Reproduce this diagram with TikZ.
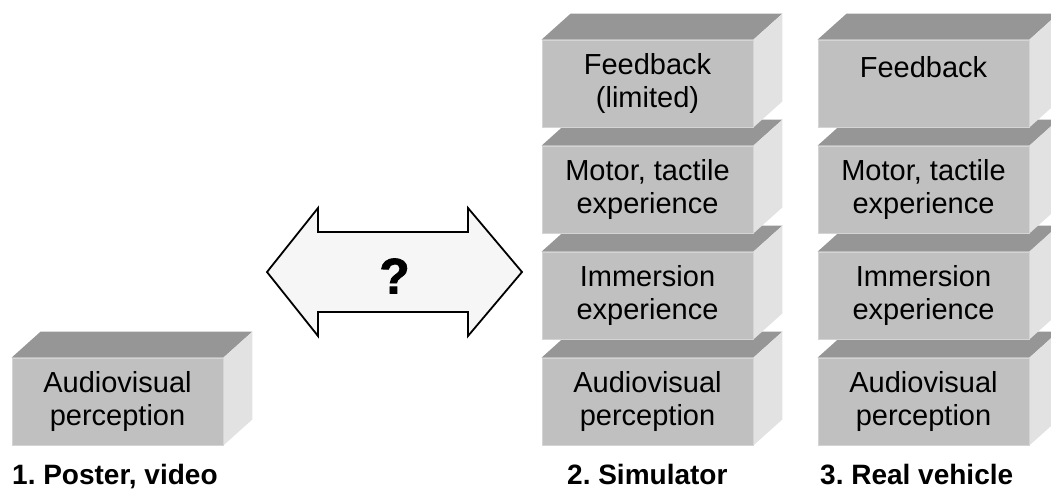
\documentclass[tikz,border=0pt]{standalone}
\usepackage{fontspec}
\setmainfont{Liberation Sans}
\newfontfamily\heavyfont[FakeBold=1.6]{Liberation Sans Bold}
\usetikzlibrary{backgrounds, calc}

\definecolor{slabfront}{RGB}{192,192,192}
\definecolor{slabtop}{RGB}{150,150,150}
\definecolor{slabside}{RGB}{226,226,226}
\definecolor{slabedge}{RGB}{212,212,212}
\definecolor{arrowfill}{RGB}{246,246,246}

\begin{document}
\frenchspacing
\begin{tikzpicture}[x=1pt, y=-1pt]
  % Define styles
  \tikzstyle{slab} = [rectangle, fill=slabfront, draw=slabedge, line width=0.8pt, minimum width=211pt, minimum height=87pt, inner sep=0pt, align=center, font=\fontsize{29}{33}\selectfont]
  \tikzstyle{slabtopface} = [fill=slabtop]
  \tikzstyle{slabsideface} = [fill=slabside]
  \tikzstyle{caption} = [anchor=base west, inner sep=0pt, font=\fontsize{28}{32}\selectfont\bfseries]
  \tikzstyle{bigarrow} = [draw=black, fill=arrowfill, line width=1.8pt, line join=miter]

  \useasboundingbox (0,0) rectangle (1051,491);

  % Column 1: poster, video
  \node[slab] (posav) at (117.5,401.5) {Audiovisual\\perception};

  % Column 2: simulator (bottom to top)
  \node[slab] (simav) at (647.5,401.5) {Audiovisual\\perception};
  \node[slab] (simim) at (647.5,295.5) {Immersion\\experience};
  \node[slab] (simmo) at (647.5,189.5) {Motor, tactile\\experience};
  \node[slab] (simfb) at (647.5,83.5) {Feedback\\(limited)};

  % Column 3: real vehicle (bottom to top)
  \node[slab] (realav) at (923.5,401.5) {Audiovisual\\perception};
  \node[slab] (realim) at (923.5,295.5) {Immersion\\experience};
  \node[slab] (realmo) at (923.5,189.5) {Motor, tactile\\experience};
  \node[slab] (realfb) at (923.5,83.5) {Feedback\\\mbox{}};

  % 3D faces behind the fronts
  \begin{pgfonlayer}{background}
    \foreach \n in {posav,simav,simim,simmo,simfb,realav,realim,realmo,realfb} {
      \fill[slabtopface] (\n.north west) -- ++(29,-26) -- ($(\n.north east)+(29,-26)$) -- (\n.north east) -- cycle;
      \fill[slabsideface] (\n.north east) -- ++(29,-26) -- ($(\n.south east)+(29,-26)$) -- (\n.south east) -- cycle;
    }
  \end{pgfonlayer}

  % Double arrow with question mark
  \draw[bigarrow] (267,272) -- (318,208) -- (318,232) -- (468,232) -- (468,208) -- (522,272)
    -- (468,336) -- (468,312) -- (318,312) -- (318,336) -- cycle;
  \node[font=\fontsize{50}{50}\selectfont\heavyfont] (quest) at (394.5,276) {?};

  % Captions
  \node[caption] (cappos) at (12,484) {1. Poster, video};
  \node[caption] (capsim) at (567,484) {2. Simulator};
  \node[caption] (capreal) at (820,484) {3. Real vehicle};

\end{tikzpicture}
\end{document}
